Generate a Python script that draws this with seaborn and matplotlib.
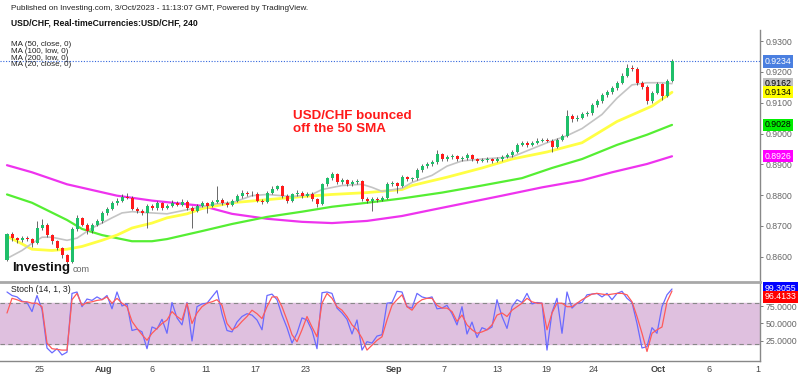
import numpy as np
import pandas as pd
import matplotlib
matplotlib.use('Agg')
import matplotlib.pyplot as plt
import matplotlib.transforms as mtrans
from matplotlib.ticker import FormatStrFormatter
import seaborn as sns

# 4H candles USD/CHF (open of each candle = previous close)
first_open = 0.8590
closes = [.8672, .8660, .8653, .8660, .8657, .8643, .8693, .8703, .8670, .8650,
          .8627, .8604, .8584, .8690, .8726, .8703, .8683, .8703, .8716, .8742,
          .8755, .8775, .8782, .8795, .8792, .8755, .8749, .8742, .8765, .8759,
          .8775, .8759, .8765, .8775, .8769, .8779, .8759, .8749, .8765, .8775,
          .8765, .8779, .8785, .8775, .8769, .8782, .8798, .8808, .8802, .8805,
          .8782, .8779, .8808, .8821, .8828, .8798, .8782, .8802, .8808, .8798,
          .8805, .8788, .8772, .8835, .8854, .8868, .8841, .8848, .8835, .8841,
          .8845, .8788, .8782, .8788, .8785, .8792, .8835, .8838, .8831, .8858,
          .8851, .8854, .8881, .8894, .8901, .8907, .8934, .8917, .8924, .8927,
          .8917, .8920, .8930, .8917, .8911, .8914, .8917, .8911, .8917, .8924,
          .8930, .8940, .8963, .8970, .8963, .8970, .8977, .8980, .8977, .8957,
          .8980, .8993, .9056, .9046, .9052, .9062, .9066, .9092, .9105, .9125,
          .9135, .9148, .9165, .9188, .9214, .9211, .9165, .9151, .9105, .9132,
          .9161, .9122, .9171, .9234]
highs = [.8678, .8680, .8665, .8667, .8666, .8662, .8716, .8722, .8708, .8675,
         .8655, .8632, .8610, .8697, .8736, .8730, .8708, .8709, .8722, .8748,
         .8762, .8782, .8790, .8802, .8808, .8797, .8762, .8756, .8771, .8772,
         .8781, .8779, .8772, .8783, .8780, .8786, .8783, .8764, .8770, .8782,
         .8779, .8785, .8831, .8790, .8781, .8788, .8805, .8815, .8814, .8812,
         .8809, .8788, .8814, .8828, .8834, .8832, .8803, .8808, .8815, .8812,
         .8811, .8809, .8792, .8840, .8860, .8876, .8872, .8855, .8853, .8848,
         .8852, .8849, .8794, .8793, .8795, .8798, .8841, .8846, .8843, .8865,
         .8863, .8860, .8888, .8900, .8908, .8914, .8947, .8938, .8930, .8934,
         .8931, .8927, .8937, .8934, .8922, .8920, .8923, .8921, .8923, .8930,
         .8936, .8946, .8969, .8976, .8975, .8977, .8984, .8987, .8986, .8981,
         .8985, .9000, .9078, .9062, .9060, .9069, .9073, .9098, .9112, .9131,
         .9142, .9155, .9171, .9195, .9227, .9224, .9215, .9170, .9156, .9138,
         .9167, .9165, .9178, .9241]
lows = [.8585, .8652, .8645, .8648, .8650, .8632, .8640, .8688, .8664, .8642,
        .8620, .8596, .8562, .8578, .8684, .8698, .8672, .8678, .8698, .8710,
        .8736, .8750, .8768, .8776, .8786, .8750, .8742, .8736, .8693, .8752,
        .8753, .8752, .8754, .8760, .8763, .8764, .8753, .8693, .8744, .8760,
        .8742, .8760, .8773, .8768, .8762, .8764, .8777, .8792, .8796, .8797,
        .8776, .8772, .8774, .8802, .8815, .8792, .8775, .8777, .8796, .8792,
        .8793, .8782, .8762, .8768, .8829, .8848, .8835, .8836, .8829, .8830,
        .8836, .8782, .8775, .8749, .8779, .8780, .8788, .8829, .8808, .8826,
        .8845, .8845, .8849, .8876, .8888, .8896, .8902, .8910, .8912, .8918,
        .8911, .8911, .8915, .8911, .8905, .8906, .8908, .8905, .8906, .8912,
        .8919, .8925, .8936, .8958, .8957, .8958, .8965, .8972, .8971, .8940,
        .8952, .8975, .8988, .9038, .9040, .9046, .9056, .9061, .9086, .9100,
        .9118, .9129, .9142, .9160, .9182, .9203, .9158, .9143, .9095, .9100,
        .9127, .9110, .9117, .9166]

# moving averages (candle index, value)
ma200_idx = [0, 5, 12, 22, 29, 39, 45, 52, 59, 65, 72, 79, 85, 92, 99, 107, 115, 121, 128, 133]
ma200_val = [.8897, .8874, .8835, .8798, .8782, .8765, .8739, .8723, .8713, .8709,
             .8716, .8732, .8752, .8775, .8798, .8825, .8848, .8874, .8901, .8926]
ma100_idx = [0, 5, 12, 15, 19, 25, 29, 32, 39, 45, 52, 59, 65, 72, 79, 87, 95, 103, 109,
             115, 122, 128, 133]
ma100_val = [.8802, .8775, .8719, .8690, .8670, .8650, .8650, .8657, .8683, .8706, .8729,
             .8746, .8762, .8775, .8789, .8808, .8831, .8855, .8888, .8917, .8963, .8996, .9028]
ma50_idx = [0, 2, 5, 9, 12, 15, 19, 22, 25, 29, 32, 36, 39, 45, 52, 59, 65, 72, 79, 81,
            88, 95, 101, 108, 115, 122, 129, 133]
ma50_val = [.8666, .8650, .8624, .8620, .8624, .8633, .8653, .8670, .8693, .8709, .8726,
            .8739, .8756, .8775, .8785, .8795, .8802, .8808, .8818, .8831, .8858, .8888,
            .8917, .8940, .8970, .9039, .9089, .9134]
ma20_idx = [0, 3, 5, 7, 9, 12, 14, 17, 19, 21, 23, 25, 29, 32, 35, 39, 42, 45, 49, 52,
            57, 61, 63, 67, 71, 73, 75, 79, 81, 85, 88, 91, 95, 101, 108, 112, 115, 119,
            122, 125, 128, 131, 133]
ma20_val = [.8594, .8620, .8643, .8663, .8663, .8653, .8660, .8693, .8709, .8726, .8742,
            .8746, .8742, .8739, .8749, .8762, .8772, .8775, .8798, .8802, .8795, .8802,
            .8818, .8831, .8835, .8825, .8812, .8822, .8841, .8864, .8894, .8911, .8917,
            .8924, .8970, .8993, .9016, .9062, .9115, .9158, .9165, .9165, .9162]

# stochastic (14, 1, 3)
stoch_k = [95, 90, 88, 82, 80, 67, 90, 70, 15, 8,
           14, 5, 9, 93, 95, 74, 85, 83, 88, 84,
           90, 71, 95, 75, 78, 40, 42, 38, 14, 45,
           42, 56, 36, 80, 58, 48, 80, 25, 74, 78,
           79, 88, 97, 64, 40, 38, 52, 60, 64, 62,
           55, 41, 90, 92, 84, 62, 44, 22, 36, 58,
           55, 40, 14, 94, 95, 93, 72, 65, 56, 35,
           55, 12, 24, 22, 32, 34, 79, 80, 96, 95,
           74, 72, 93, 88, 86, 88, 71, 72, 76, 64,
           48, 74, 35, 52, 30, 44, 41, 45, 84, 60,
           43, 74, 84, 80, 93, 78, 80, 79, 12, 66,
           86, 36, 95, 72, 79, 80, 91, 92, 93, 88,
           93, 84, 93, 96, 86, 80, 50, 15, 17, 44,
           36, 74, 91, 99.3055]
stoch_d = [65, 86, 84, 81, 81, 79, 79, 74, 22, 14,
           13, 12, 12, 84, 93, 76, 80, 81, 83, 84,
           88, 79, 86, 79, 74, 53, 43, 34, 26, 36,
           43, 50, 55, 67, 60, 55, 79, 50, 65, 74,
           79, 81, 84, 76, 50, 41, 45, 53, 60, 69,
           64, 57, 74, 88, 88, 74, 55, 34, 24, 41,
           60, 45, 31, 79, 93, 86, 74, 69, 60, 48,
           41, 29, 12, 19, 26, 31, 55, 76, 84, 91,
           74, 69, 79, 84, 86, 86, 76, 72, 72, 67,
           53, 62, 48, 41, 36, 38, 41, 48, 62, 65,
           60, 69, 74, 79, 86, 81, 79, 79, 41, 65,
           79, 79, 74, 74, 79, 84, 88, 92, 93, 92,
           91, 92, 93, 93, 91, 81, 60, 36, 10, 36,
           41, 45, 81, 96.4133]

date_labels = ['25', 'Aug', '6', '11', '17', '23', 'Sep', '7', '13', '19', '24', 'Oct', '6', '1']
date_pos = [6.6, 19.4, 29, 39.8, 49.6, 59.8, 77.4, 87.4, 98, 107.8, 117.4, 130.2, 140.4, 150.2]
price_ticks = [0.86, 0.87, 0.88, 0.89, 0.90, 0.91, 0.92, 0.93]

sns.set_theme(style='white')
plt.rcParams['font.family'] = ['Liberation Sans', 'DejaVu Sans']

fig = plt.figure(figsize=(8, 3.76), dpi=100)
ax = fig.add_axes([0, 95 / 376, 760 / 800, 251 / 376])
ax_s = fig.add_axes([0, 15 / 376, 760 / 800, 79 / 376])

n = len(closes)
idx = np.arange(n)
o = np.array([first_open] + closes[:-1])
c = np.array(closes)
up = c >= o
colors = np.where(up, '#1fbf6a', '#ff1a1a')

# MA lines
ma_sets = [(ma200_idx, ma200_val, '#ee33ee', 1.6),
           (ma100_idx, ma100_val, '#55ee33', 1.6),
           (ma50_idx, ma50_val, '#ffff44', 2.0),
           (ma20_idx, ma20_val, '#c4c4c4', 1.2)]
for xs, vs, col, lw in ma_sets:
    sns.lineplot(x=xs, y=vs, ax=ax, color=col, lw=lw, legend=False, zorder=2)

# candles
ax.vlines(idx, lows, highs, color='#404040', lw=0.55, zorder=3)
body = np.maximum(np.abs(c - o), 0.00012)
ax.bar(idx, body, bottom=np.minimum(o, c), width=0.6, color=colors, lw=0, zorder=4)

ax.axhline(closes[-1], color='#3366dd', ls=(0, (1, 1.5)), lw=0.8, zorder=1)

ax.set_xlim(-1.4, 150.6)
ax.set_ylim(0.85208, 0.93363)
ax.set_xticks([])
ax.yaxis.tick_right()
ax.set_yticks(price_ticks)
ax.yaxis.set_major_formatter(FormatStrFormatter('%.4f'))
ax.tick_params(axis='y', labelsize=6.3, colors='#666666', length=2.5, width=0.6, pad=1.5)
for s in ['top', 'left', 'bottom']:
    ax.spines[s].set_visible(False)
ax.spines['right'].set_color('#888888')
ax.spines['right'].set_linewidth(1)
ax.set_xlabel('')
ax.set_ylabel('')

tr = mtrans.blended_transform_factory(ax.transAxes, ax.transData)
price_labels = [(closes[-1], '%.4f' % closes[-1], '#4a7fe0', 'white'),
                (ma20_val[-1], '%.4f' % ma20_val[-1], '#c0c0c0', 'black'),
                (ma50_val[-1], '%.4f' % ma50_val[-1], '#ffff00', 'black'),
                (ma100_val[-1], '%.4f' % ma100_val[-1], '#00ee00', 'black'),
                (ma200_val[-1], '%.4f' % ma200_val[-1], '#ff00ff', 'white')]
for y, txt, fc, tc in price_labels:
    ax.text(1.006, y, txt, transform=tr, fontsize=6.3, color=tc, va='center', ha='left',
            bbox=dict(boxstyle='square,pad=0.18', fc=fc, ec='none'), zorder=6, clip_on=False)

# stochastic panel
ax_s.axhspan(20, 80, color='#dfc0df', zorder=0)
for lvl in (20, 80):
    ax_s.axhline(lvl, color='#888888', ls=(0, (4, 3)), lw=0.8, zorder=1)
sns.lineplot(x=idx, y=stoch_k, ax=ax_s, color='#6a6aff', lw=0.9, legend=False, zorder=3)
sns.lineplot(x=idx, y=stoch_d, ax=ax_s, color='#ff5a5a', lw=0.9, legend=False, zorder=3)
ax_s.set_xlim(-1.4, 150.6)
ax_s.set_ylim(-3.6, 109.3)
ax_s.yaxis.tick_right()
ax_s.set_yticks([25, 50, 75])
ax_s.yaxis.set_major_formatter(FormatStrFormatter('%.4f'))
ax_s.tick_params(axis='y', labelsize=6.3, colors='#666666', length=2.5, width=0.6, pad=1.5)
ax_s.set_xticks(date_pos)
ax_s.set_xticklabels(date_labels)
ax_s.tick_params(axis='x', labelsize=6.5, colors='#444444', length=0, pad=3)
for lab in ax_s.get_xticklabels():
    if lab.get_text() in ('Aug', 'Sep', 'Oct'):
        lab.set_fontweight('bold')
ax_s.spines['left'].set_visible(False)
ax_s.spines['top'].set_color('#a8a8a8')
ax_s.spines['top'].set_linewidth(2)
for s in ['bottom', 'right']:
    ax_s.spines[s].set_color('#888888')
    ax_s.spines[s].set_linewidth(1)
ax_s.set_xlabel('')
ax_s.set_ylabel('')

trs = mtrans.blended_transform_factory(ax_s.transAxes, ax_s.transData)
ax_s.text(1.006, 100.5, '%.4f' % stoch_k[-1], transform=trs, fontsize=6.3, color='white',
          va='center', ha='left', bbox=dict(boxstyle='square,pad=0.18', fc='#0000ff', ec='none'),
          clip_on=False)
ax_s.text(1.006, 88, '%.4f' % stoch_d[-1], transform=trs, fontsize=6.3, color='white',
          va='center', ha='left', bbox=dict(boxstyle='square,pad=0.18', fc='#ff0000', ec='none'),
          clip_on=False)

# texts
fig.text(11 / 800, 1 - 9 / 376,
         'Published on Investing.com, 3/Oct/2023 - 11:13:07 GMT, Powered by TradingView.',
         fontsize=5.9, color='#222222', va='center')
fig.text(11 / 800, 1 - 23 / 376, 'USD/CHF, Real-timeCurrencies:USD/CHF, 240',
         fontsize=6.2, fontweight='bold', color='#111111', va='center')
for k, t in enumerate(['MA (50, close, 0)', 'MA (100, low, 0)', 'MA (200, low, 0)', 'MA (20, close, 0)']):
    fig.text(11 / 800, 1 - (44.5 + 6.8 * k) / 376, t, fontsize=5.8, color='#222222', va='center')
fig.text(293 / 800, 1 - 110 / 376, 'USD/CHF bounced\noff the 50 SMA', fontsize=9.6,
         fontweight='bold', color='#ff1a1a', va='top', linespacing=1.15)
fig.text(12 / 800, 1 - 268 / 376, 'Investing', fontsize=9.5, fontweight='bold',
         color='#111111', va='center')
fig.text(73 / 800, 1 - 269 / 376, 'com', fontsize=6.5, color='#666666', va='center')
fig.text(11 / 800, 1 - 290 / 376, 'Stoch (14, 1, 3)', fontsize=6.3, color='#222222',
         va='center', zorder=10)

fig.savefig('out.png', dpi=100)
